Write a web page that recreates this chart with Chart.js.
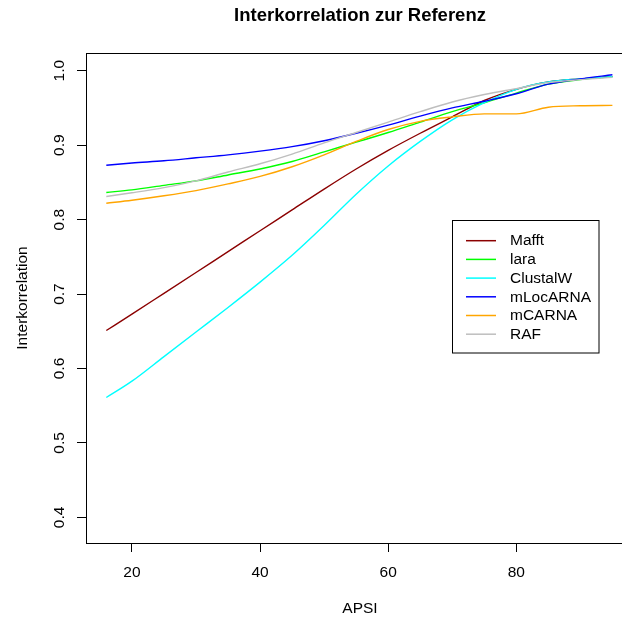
<!DOCTYPE html>
<html>
<head>
<meta charset="utf-8">
<script src="https://cdn.jsdelivr.net/npm/chart.js@4"></script>
<style>
html,body{margin:0;padding:0;background:#fff;overflow:hidden;width:622px;height:618px;}
canvas{display:block;}
</style>
</head>
<body>
<canvas id="c" width="640" height="618"></canvas>
<script>
// ---- data ----
const apsi = [16,20,25,30,35,40,45,50,55,60,65,70,75,80,85,90,95];
const mafft    = [0.651,0.673,0.701,0.729,0.757,0.785,0.813,0.841,0.868,0.893,0.916,0.938,0.960,0.975,0.985,0.989,0.992];
const lara     = [0.8365,0.840,0.846,0.852,0.860,0.868,0.878,0.891,0.904,0.917,0.931,0.945,0.957,0.970,0.982,0.988,0.992];
const clustalw = [0.561,0.583,0.616,0.649,0.682,0.716,0.752,0.792,0.834,0.872,0.905,0.934,0.957,0.975,0.985,0.989,0.992];
const mlocarna = [0.873,0.876,0.879,0.883,0.887,0.892,0.898,0.906,0.916,0.927,0.939,0.950,0.959,0.969,0.982,0.989,0.9946];
const mcarna   = [0.822,0.826,0.832,0.839,0.848,0.858,0.871,0.887,0.905,0.921,0.932,0.938,0.942,0.942,0.951,0.953,0.9534];
const raf      = [0.831,0.836,0.843,0.852,0.864,0.875,0.888,0.903,0.917,0.931,0.945,0.958,0.968,0.976,0.984,0.988,0.991];

const seriesNames = ['Mafft','lara','ClustalW','mLocARNA','mCARNA','RAF'];
const seriesData  = [mafft, lara, clustalw, mlocarna, mcarna, raf];
const seriesColors = ['#8B0000','#00FF00','#00FFFF','#0000FF','#FFA500','#BEBEBE'];

const xTicks = [20,40,60,80];
const yTicks = [0.4,0.5,0.6,0.7,0.8,0.9,1.0];
const yTickLabels = ['0.4','0.5','0.6','0.7','0.8','0.9','1.0'];

const titleText = 'Interkorrelation zur Referenz';
const xTitle = 'APSI';
const yTitle = 'Interkorrelation';

const FONT = '"Liberation Sans", Arial, Helvetica, sans-serif';

const datasets = seriesNames.map((name, i) => ({
  label: name,
  data: apsi.map((x, j) => ({x: x, y: seriesData[i][j]})),
  borderColor: seriesColors[i],
  backgroundColor: seriesColors[i],
  borderWidth: 1.4,
  pointRadius: 0,
  fill: false,
  cubicInterpolationMode: 'monotone',
  order: seriesNames.length - i
}));

const decor = {
  id: 'decor',
  afterDraw(chart) {
    const ctx = chart.ctx;
    const a = chart.chartArea;
    const xs = chart.scales.x, ys = chart.scales.y;
    ctx.save();
    // plot box
    ctx.strokeStyle = '#000';
    ctx.lineWidth = 1;
    ctx.strokeRect(Math.round(a.left) + 0.5, Math.round(a.top) + 0.5,
                   Math.round(a.right - a.left), Math.round(a.bottom - a.top));
    ctx.fillStyle = '#000';
    // title
    ctx.font = 'bold 18.5px ' + FONT;
    ctx.textAlign = 'center';
    ctx.textBaseline = 'alphabetic';
    ctx.fillText(titleText, (a.left + a.right) / 2, 21);
    // x tick labels
    ctx.font = '15.5px ' + FONT;
    xTicks.forEach(v => {
      ctx.fillText(String(v), xs.getPixelForValue(v), 577);
    });
    // x title
    ctx.fillText(xTitle, (a.left + a.right) / 2, 613);
    // y tick labels (rotated)
    yTicks.forEach((v, i) => {
      ctx.save();
      ctx.translate(64, ys.getPixelForValue(v));
      ctx.rotate(-Math.PI / 2);
      ctx.fillText(yTickLabels[i], 0, 0);
      ctx.restore();
    });
    // y title
    ctx.save();
    ctx.translate(26.5, (a.top + a.bottom) / 2);
    ctx.rotate(-Math.PI / 2);
    ctx.fillText(yTitle, 0, 0);
    ctx.restore();
    // legend
    const lx = 452.5, ly = 220.5, lw = 146.5, lh = 132.5;
    ctx.fillStyle = '#fff';
    ctx.fillRect(lx, ly, lw, lh);
    ctx.strokeStyle = '#000';
    ctx.strokeRect(lx, ly, lw, lh);
    ctx.textAlign = 'left';
    ctx.textBaseline = 'middle';
    seriesNames.forEach((n, i) => {
      const yy = 240.7 + i * 18.7;
      ctx.strokeStyle = seriesColors[i];
      ctx.lineWidth = 1.5;
      ctx.beginPath();
      ctx.moveTo(466, yy);
      ctx.lineTo(496, yy);
      ctx.stroke();
      ctx.fillStyle = '#000';
      ctx.fillText(n, 510, yy + 0.5);
    });
    ctx.restore();
  }
};

new Chart(document.getElementById('c'), {
  type: 'line',
  data: { datasets },
  options: {
    responsive: false,
    animation: false,
    devicePixelRatio: 1,
    layout: { padding: { top: 53, right: 6, left: 0, bottom: 0 } },
    plugins: { legend: { display: false }, tooltip: { enabled: false }, title: { display: false } },
    scales: {
      x: {
        type: 'linear',
        position: 'bottom',
        min: 12.83,
        max: 98.37,
        afterBuildTicks: s => { s.ticks = xTicks.map(v => ({ value: v })); },
        afterFit: s => { s.height = 75; },
        ticks: { display: false },
        border: { display: false },
        grid: { drawOnChartArea: false, drawTicks: true, tickLength: 9, color: '#000', lineWidth: 1 }
      },
      y: {
        type: 'linear',
        position: 'left',
        min: 0.3656,
        max: 1.0238,
        afterBuildTicks: s => { s.ticks = yTicks.map(v => ({ value: v })); },
        afterFit: s => { s.width = 86; },
        ticks: { display: false },
        border: { display: false },
        grid: { drawOnChartArea: false, drawTicks: true, tickLength: 9, color: '#000', lineWidth: 1 }
      }
    }
  },
  plugins: [decor]
});
</script>
</body>
</html>
